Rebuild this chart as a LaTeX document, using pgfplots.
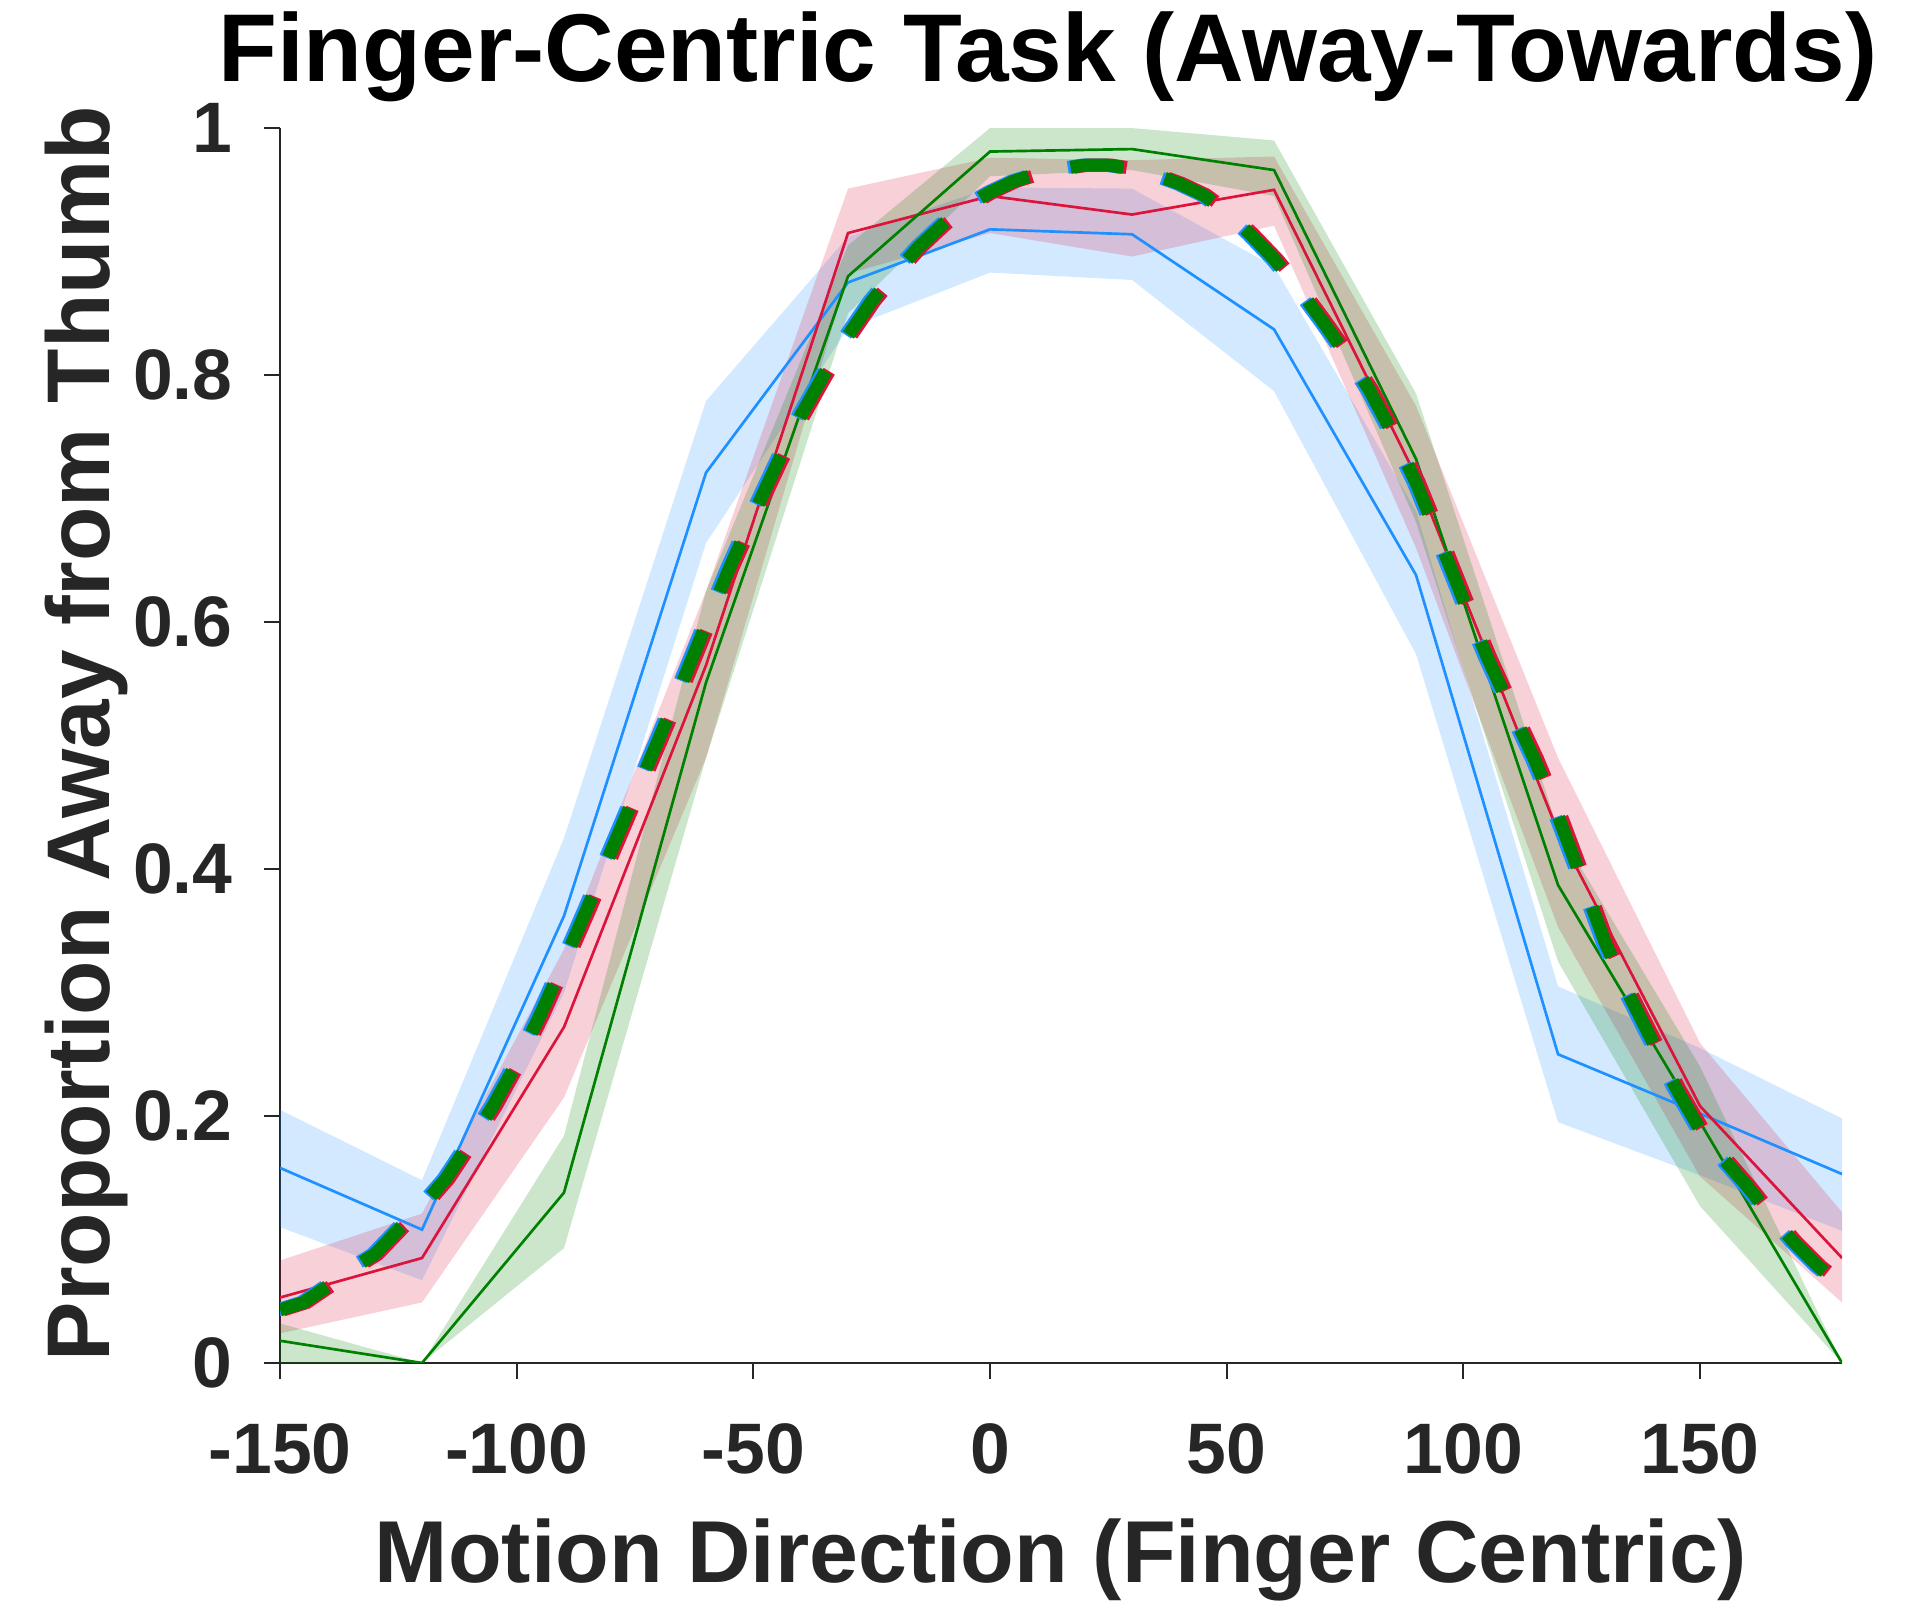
\documentclass[border=0pt]{standalone}
\usepackage{pgfplots}
\usepackage{pgfplotstable}
\pgfplotsset{compat=1.18}
\usepackage{fontspec}
\setmainfont{Liberation Sans}
\definecolor{cblue}{RGB}{30,144,255}
\definecolor{cred}{RGB}{220,20,60}
\definecolor{cgreen}{RGB}{0,128,0}
\definecolor{axgray}{RGB}{38,38,38}

\pgfplotstableread{
x y
-150 0.043
-145 0.049
-140 0.062
-135 0.076
-130 0.088
-125 0.108
-120 0.127
-115 0.149
-110 0.178
-105 0.208
-100 0.243
-95 0.282
-90 0.325
-85 0.369
-80 0.415
-75 0.460
-70 0.505
-65 0.551
-60 0.598
-55 0.644
-50 0.687
-45 0.728
-40 0.767
-35 0.801
-30 0.832
-25 0.860
-20 0.883
-15 0.904
-10 0.922
-5 0.937
0 0.948
5 0.957
10 0.963
15 0.967
20 0.970
25 0.970
30 0.967
35 0.962
40 0.955
45 0.946
50 0.932
55 0.914
60 0.894
65 0.871
70 0.845
75 0.818
80 0.789
85 0.753
90 0.713
95 0.666
100 0.618
105 0.572
110 0.530
115 0.489
120 0.443
125 0.392
130 0.340
135 0.298
140 0.260
145 0.222
150 0.189
155 0.165
160 0.143
165 0.119
170 0.097
175 0.078
180 0.063
}\fitdata

\begin{document}
\begin{tikzpicture}
\path[use as bounding box] (-73.26pt,-62.53pt) rectangle (426.74pt,356.62pt);
\begin{axis}[
  at={(0pt,0pt)}, anchor=south west,
  scale only axis, width=408.7pt, height=323.1pt,
  xmin=-150, xmax=180, ymin=0, ymax=1,
  axis lines=left,
  axis line style={-, draw=axgray, line width=0.55pt},
  tick align=outside, major tick length=4.2pt,
  every tick/.style={draw=axgray, line width=0.55pt},
  xtick={-150,-100,-50,0,50,100,150},
  xticklabels={-150,-100,-50,0,50,100,150},
  ytick={0,0.2,0.4,0.6,0.8,1},
  yticklabels={0,0.2,0.4,0.6,0.8,1},
  ticklabel style={font=\fontsize{18.7}{22}\selectfont\bfseries, text=axgray},
  xticklabel style={anchor=north, inner sep=0pt, yshift=-11.5pt},
  yticklabel style={anchor=east, inner sep=0pt, xshift=-8pt},
]
% bands
\addplot[draw=none, fill=cblue, fill opacity=0.2, forget plot] coordinates {
(-150,0.205) (-120,0.148) (-90,0.425) (-60,0.779) (-30,0.912) (0,0.952) (30,0.951) (60,0.888) (90,0.690) (120,0.305) (150,0.255) (180,0.198)
(180,0.107) (150,0.152) (120,0.195) (90,0.574) (60,0.787) (30,0.877) (0,0.883) (-30,0.838) (-60,0.664) (-90,0.300) (-120,0.067) (-150,0.110)} -- cycle;
\addplot[draw=none, fill=cred, fill opacity=0.2, forget plot] coordinates {
(-150,0.083) (-120,0.121) (-90,0.335) (-60,0.625) (-30,0.951) (0,0.976) (30,0.974) (60,0.977) (90,0.775) (120,0.490) (150,0.259) (180,0.122)
(180,0.049) (150,0.151) (120,0.353) (90,0.660) (60,0.921) (30,0.896) (0,0.915) (-30,0.882) (-60,0.490) (-90,0.215) (-120,0.049) (-150,0.024)} -- cycle;
\addplot[draw=none, fill=cgreen, fill opacity=0.2, forget plot] coordinates {
(-150,0.032) (-120,0.0) (-90,0.184) (-60,0.625) (-30,0.905) (0,1.0) (30,1.0) (60,0.990) (90,0.785) (120,0.432) (150,0.240) (180,0.0)
(180,0.0) (150,0.127) (120,0.325) (90,0.681) (60,0.945) (30,0.966) (0,0.961) (-30,0.850) (-60,0.490) (-90,0.093) (-120,0.0) (-150,-0.005)} -- cycle;
% mean lines
\addplot[cblue, line width=0.7pt] coordinates {
(-150,0.158) (-120,0.108) (-90,0.362) (-60,0.721) (-30,0.875) (0,0.918) (30,0.914) (60,0.837) (90,0.638) (120,0.250) (150,0.202) (180,0.153)};
\addplot[cred, line width=0.7pt] coordinates {
(-150,0.053) (-120,0.085) (-90,0.272) (-60,0.565) (-30,0.915) (0,0.945) (30,0.930) (60,0.950) (90,0.718) (120,0.430) (150,0.208) (180,0.085)};
\addplot[cgreen, line width=0.7pt] coordinates {
(-150,0.018) (-120,0.0) (-90,0.138) (-60,0.551) (-30,0.880) (0,0.981) (30,0.983) (60,0.966) (90,0.732) (120,0.387) (150,0.195) (180,0.0)};
% fitted curves (dashed)
\addplot[cblue, line width=3.4pt, line cap=butt, dash pattern=on 13.9pt off 11.2pt] table[x expr=\thisrow{x}-0.6, y=y] {\fitdata};
\addplot[cred, line width=3.4pt, line cap=butt, dash pattern=on 13.9pt off 11.2pt] table[x expr=\thisrow{x}+0.7, y=y] {\fitdata};
\addplot[cgreen, line width=3.4pt, line cap=butt, dash pattern=on 13.9pt off 11.2pt] table[x=x, y=y] {\fitdata};
\end{axis}
\node[anchor=base, font=\fontsize{25.2}{30}\selectfont\bfseries, text=black] at (200.9pt,335.2pt) {Finger-Centric Task (Away-Towards)};
\node[anchor=base, font=\fontsize{23}{28}\selectfont\bfseries, text=axgray] at (204.35pt,-57.56pt) {Motion Direction (Finger Centric)};
\node[anchor=base, rotate=90, font=\fontsize{23.3}{28}\selectfont\bfseries, text=axgray] at (-44.5pt,164.6pt) {Proportion Away from Thumb};
\end{tikzpicture}
\end{document}
